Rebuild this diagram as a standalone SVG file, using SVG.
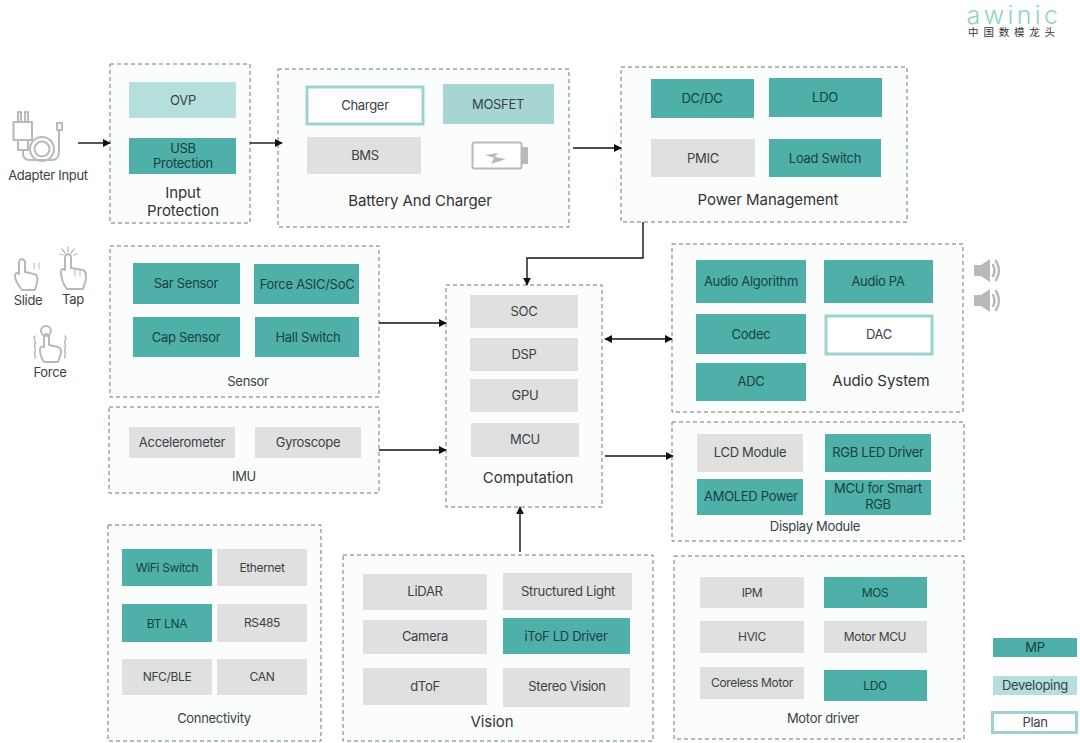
<svg xmlns="http://www.w3.org/2000/svg" width="1080" height="743" viewBox="0 0 1080 743">
<style>
text{font-family:"Inter","Liberation Sans",sans-serif;fill:#384345;text-anchor:middle;font-size:13px;letter-spacing:-0.3px}
.box{fill:#fbfdfd;stroke:#6f7678;stroke-width:1;stroke-dasharray:4 3}
.mp{fill:#4fb0aa}.dev{fill:#b5dfdc}.dev2{fill:#a6d5d3}.gray{fill:#e0e0e0}.plan{fill:#fff;stroke:#9dd3cf;stroke-width:3}
.mp+text,.mt{fill:#17423f}
.t{font-size:15px;fill:#333;letter-spacing:-0.05px}
.s{font-size:12px;letter-spacing:-0.35px}
.ic{fill:none;stroke:#b9b9b9;stroke-width:2;stroke-linejoin:round;stroke-linecap:round}
.fg{fill:#b9b9b9}
.c{fill:none;stroke:#111;stroke-width:1.4}
</style>
<defs><marker id="a" viewBox="0 0 10 10" refX="9" refY="5" markerWidth="8" markerHeight="8" markerUnits="userSpaceOnUse" orient="auto-start-reverse"><path d="M0 0L10 5L0 10Z" fill="#111"/></marker></defs>
<rect width="1080" height="743" fill="#fff"/>

<g id="logo"><text x="1014" y="24" style="font-size:25px;font-weight:300;fill:#8fd3cb;letter-spacing:3.400px">awinic</text>
<text x="1014" y="36" style="font-size:10.500px;letter-spacing:4.800px;fill:#333;font-family:'Noto Sans CJK SC',sans-serif">中国数模龙头</text></g>

<g id="adapter">
<path class="ic" d="M18 122v-10h3v10M25 122v-10h3v10M13.500 122h18.500v18h-18.500zM18 140h10v10h-10z"/>
<path class="ic" d="M23 150v4a6 6 0 0 0 6 6h23c5 0 7-4 7-8v-22"/>
<circle class="ic" cx="42" cy="149" r="12"/><circle class="ic" cx="42" cy="149" r="7.500"/>
<rect class="ic" x="57" y="123" width="5" height="7"/>
<text x="48" y="180">Adapter Input</text></g>

<g id="slide"><path class="ic" d="M22 290C18 285 15 281 15 276C15 273 17 272 19 274V263C19 258 25 258 25 263V272L34 274C38 275 38 279 37 283L35 290Z"/><path class="ic" style="stroke-width:1" d="M34 263v6M39 263v6"/><text x="28" y="305">Slide</text></g>
<g id="tap"><path class="ic" d="M67 289C63 284 61 279 61 272C61 269 63 268 65 270V258C65 253 71 253 71 258V268L83 270C86 271 86 274 86 278C86 282 84 285 83 289Z"/><path class="ic" style="stroke-width:1" d="M75 269v7M80 270v6"/><path class="ic" style="stroke-width:1.300" d="M68 247v5M62 249l3 4M74 249l-3 4M60 254l3 1M77 254l-3 1"/><text x="73" y="304">Tap</text></g>
<g id="force"><circle class="ic" cx="46" cy="331" r="5"/><path class="ic" d="M44 362C41 358 40 354 40 349C40 347 42 346 44 347V337C44 333 49 333 49 337V345L58 347C61 348 61 350 61 353L58 362Z"/><path class="ic" style="stroke-width:1.500" d="M35 336c-3 3 2 5 0 8s2 5 0 8 2 4 0 6M65 336c3 3-2 5 0 8s-2 5 0 8-2 4 0 6"/><text x="50" y="377">Force</text></g>

<g id="input-protection"><rect class="box" x="110" y="64" width="140" height="159"/>
<rect class="dev" x="129" y="82" width="107" height="36"/><text x="183" y="105">OVP</text>
<rect class="mp" x="129" y="138" width="107" height="36"/><text x="183" y="153">USB</text><text class="mt" x="183" y="168">Protection</text>
<text class="t" x="183" y="198">Input</text><text class="t" x="183" y="216">Protection</text></g>

<g id="battery-charger"><rect class="box" x="278" y="69" width="291" height="158"/>
<rect class="plan" x="307" y="87" width="116" height="37"/><text x="365" y="110">Charger</text>
<rect class="dev2" x="443" y="84" width="111" height="40"/><text x="498" y="109">MOSFET</text>
<rect class="gray" x="307" y="137" width="114" height="37"/><text x="365" y="160">BMS</text>
<rect x="472.500" y="142.500" width="49" height="26" rx="2" fill="#fff" stroke="#b9b9b9" stroke-width="2"/><path class="fg" d="M522 147h6v17h-6zM485 155l13-2-3 4 11 2-15 5 3-6z"/>
<text class="t" x="420" y="206">Battery And Charger</text></g>

<g id="power-management"><rect class="box" x="621" y="67" width="286" height="155"/>
<rect class="mp" x="651" y="79" width="103" height="39"/><text x="702" y="103">DC/DC</text>
<rect class="mp" x="769" y="78" width="113" height="39"/><text x="825" y="102">LDO</text>
<rect class="gray" x="651" y="139" width="104" height="38"/><text x="703" y="163">PMIC</text>
<rect class="mp" x="769" y="139" width="112" height="38"/><text x="825" y="163">Load Switch</text>
<text class="t" x="768" y="205">Power Management</text></g>

<g id="sensor"><rect class="box" x="110" y="246" width="269" height="151"/>
<rect class="mp" x="133" y="263" width="107" height="41"/><text x="186" y="288">Sar Sensor</text>
<rect class="mp" x="254" y="264" width="105" height="40"/><text x="307" y="289">Force ASIC/SoC</text>
<rect class="mp" x="133" y="317" width="107" height="40"/><text x="186" y="342">Cap Sensor</text>
<rect class="mp" x="255" y="317" width="104" height="40"/><text x="308" y="342">Hall Switch</text>
<text x="248" y="386">Sensor</text></g>

<g id="imu"><rect class="box" x="109" y="407" width="270" height="86"/>
<rect class="gray" x="129" y="427" width="106" height="31"/><text x="182" y="447">Accelerometer</text>
<rect class="gray" x="255" y="427" width="106" height="31"/><text x="308" y="447">Gyroscope</text>
<text x="244" y="481">IMU</text></g>

<g id="connectivity"><rect class="box" x="108" y="525" width="213" height="216"/>
<rect class="mp" x="122" y="549" width="90" height="37"/><text class="s" x="167" y="572">WiFi Switch</text>
<rect class="gray" x="217" y="549" width="90" height="37"/><text class="s" x="262" y="572">Ethernet</text>
<rect class="mp" x="122" y="604" width="90" height="38"/><text class="s" x="167" y="628">BT LNA</text>
<rect class="gray" x="217" y="604" width="90" height="38"/><text class="s" x="262" y="627">RS485</text>
<rect class="gray" x="122" y="659" width="90" height="36"/><text class="s" x="167" y="681">NFC/BLE</text>
<rect class="gray" x="217" y="659" width="90" height="36"/><text class="s" x="262" y="681">CAN</text>
<text x="214" y="723">Connectivity</text></g>

<g id="vision"><rect class="box" x="343" y="555" width="310" height="186"/>
<rect class="gray" x="363" y="574" width="124" height="36"/><text x="425" y="596">LiDAR</text>
<rect class="gray" x="503" y="573" width="129" height="37"/><text x="568" y="596">Structured Light</text>
<rect class="gray" x="363" y="620" width="124" height="34"/><text x="425" y="641">Camera</text>
<rect class="mp" x="503" y="618" width="127" height="36"/><text x="566" y="641">iToF LD Driver</text>
<rect class="gray" x="363" y="668" width="124" height="37"/><text x="425" y="691">dToF</text>
<rect class="gray" x="503" y="668" width="127" height="39"/><text x="567" y="691">Stereo Vision</text>
<text class="t" x="492" y="727">Vision</text></g>

<g id="computation"><rect class="box" x="446" y="285" width="156" height="222"/>
<rect class="gray" x="470" y="295" width="108" height="33"/><text x="524" y="316">SOC</text>
<rect class="gray" x="470" y="338" width="108" height="33"/><text x="524" y="359">DSP</text>
<rect class="gray" x="470" y="379" width="108" height="33"/><text x="525" y="400">GPU</text>
<rect class="gray" x="471" y="423" width="108" height="34"/><text x="525" y="444">MCU</text>
<text class="t" x="528" y="483">Computation</text></g>

<g id="audio-system"><rect class="box" x="672" y="244" width="291" height="168"/>
<rect class="mp" x="696" y="260" width="110" height="43"/><text x="751" y="286">Audio Algorithm</text>
<rect class="mp" x="824" y="260" width="109" height="43"/><text x="878" y="286">Audio PA</text>
<rect class="mp" x="696" y="314" width="110" height="40"/><text x="751" y="339">Codec</text>
<rect class="plan" x="826" y="316" width="106" height="38"/><text x="879" y="339">DAC</text>
<rect class="mp" x="696" y="363" width="110" height="38"/><text x="751" y="386">ADC</text>
<text class="t" x="881" y="386">Audio System</text></g>

<g id="speakers"><path class="fg" d="M974 265h7l9-6v23l-9-6h-7zM974 295h7l9-6v23l-9-6h-7z"/>
<path class="ic" style="stroke-width:2.500" d="M993 265q3 5.500 0 11M996 261q6 9.500 0 19M993 295q3 5.500 0 11M996 291q6 9.500 0 19"/></g>

<g id="display-module"><rect class="box" x="672" y="422" width="292" height="119"/>
<rect class="gray" x="697" y="434" width="106" height="38"/><text x="750" y="457">LCD Module</text>
<rect class="mp" x="825" y="434" width="106" height="38"/><text x="878" y="457">RGB LED Driver</text>
<rect class="mp" x="697" y="479" width="106" height="36"/><text x="751" y="501">AMOLED Power</text>
<rect class="mp" x="825" y="480" width="106" height="35"/><text x="878" y="493">MCU for Smart</text><text class="mt" x="878" y="509">RGB</text>
<text x="815" y="531">Display Module</text></g>

<g id="motor-driver"><rect class="box" x="674" y="556" width="290" height="183"/>
<rect class="gray" x="700" y="577" width="104" height="31"/><text class="s" x="752" y="597">IPM</text>
<rect class="mp" x="824" y="577" width="103" height="31"/><text class="s" x="875" y="597">MOS</text>
<rect class="gray" x="700" y="621" width="104" height="32"/><text class="s" x="752" y="641">HVIC</text>
<rect class="gray" x="824" y="621" width="103" height="32"/><text class="s" x="875" y="641">Motor MCU</text>
<rect class="gray" x="700" y="667" width="104" height="32"/><text class="s" x="752" y="687">Coreless Motor</text>
<rect class="mp" x="824" y="670" width="103" height="31"/><text class="s" x="875" y="690">LDO</text>
<text x="823" y="723">Motor driver</text></g>

<g id="legend">
<rect class="mp" x="993" y="638" width="84" height="19"/><text x="1035" y="652">MP</text>
<rect class="dev" x="993" y="676" width="84" height="19"/><text x="1035" y="690">Developing</text>
<rect class="plan" x="992.500" y="712.500" width="84" height="20"/><text x="1035" y="727">Plan</text></g>

<g id="connectors">
<path class="c" marker-end="url(#a)" d="M78 143H110"/>
<path class="c" marker-end="url(#a)" d="M250 143H282"/>
<path class="c" marker-end="url(#a)" d="M573 148H621"/>
<path class="c" marker-end="url(#a)" d="M643 222V258H527V285"/>
<path class="c" marker-end="url(#a)" d="M379 323H446"/>
<path class="c" marker-end="url(#a)" d="M379 450H446"/>
<path class="c" marker-start="url(#a)" marker-end="url(#a)" d="M605 339H672"/>
<path class="c" marker-end="url(#a)" d="M605 456H673"/>
<path class="c" marker-end="url(#a)" d="M520 552V507"/>
</g>
</svg>
